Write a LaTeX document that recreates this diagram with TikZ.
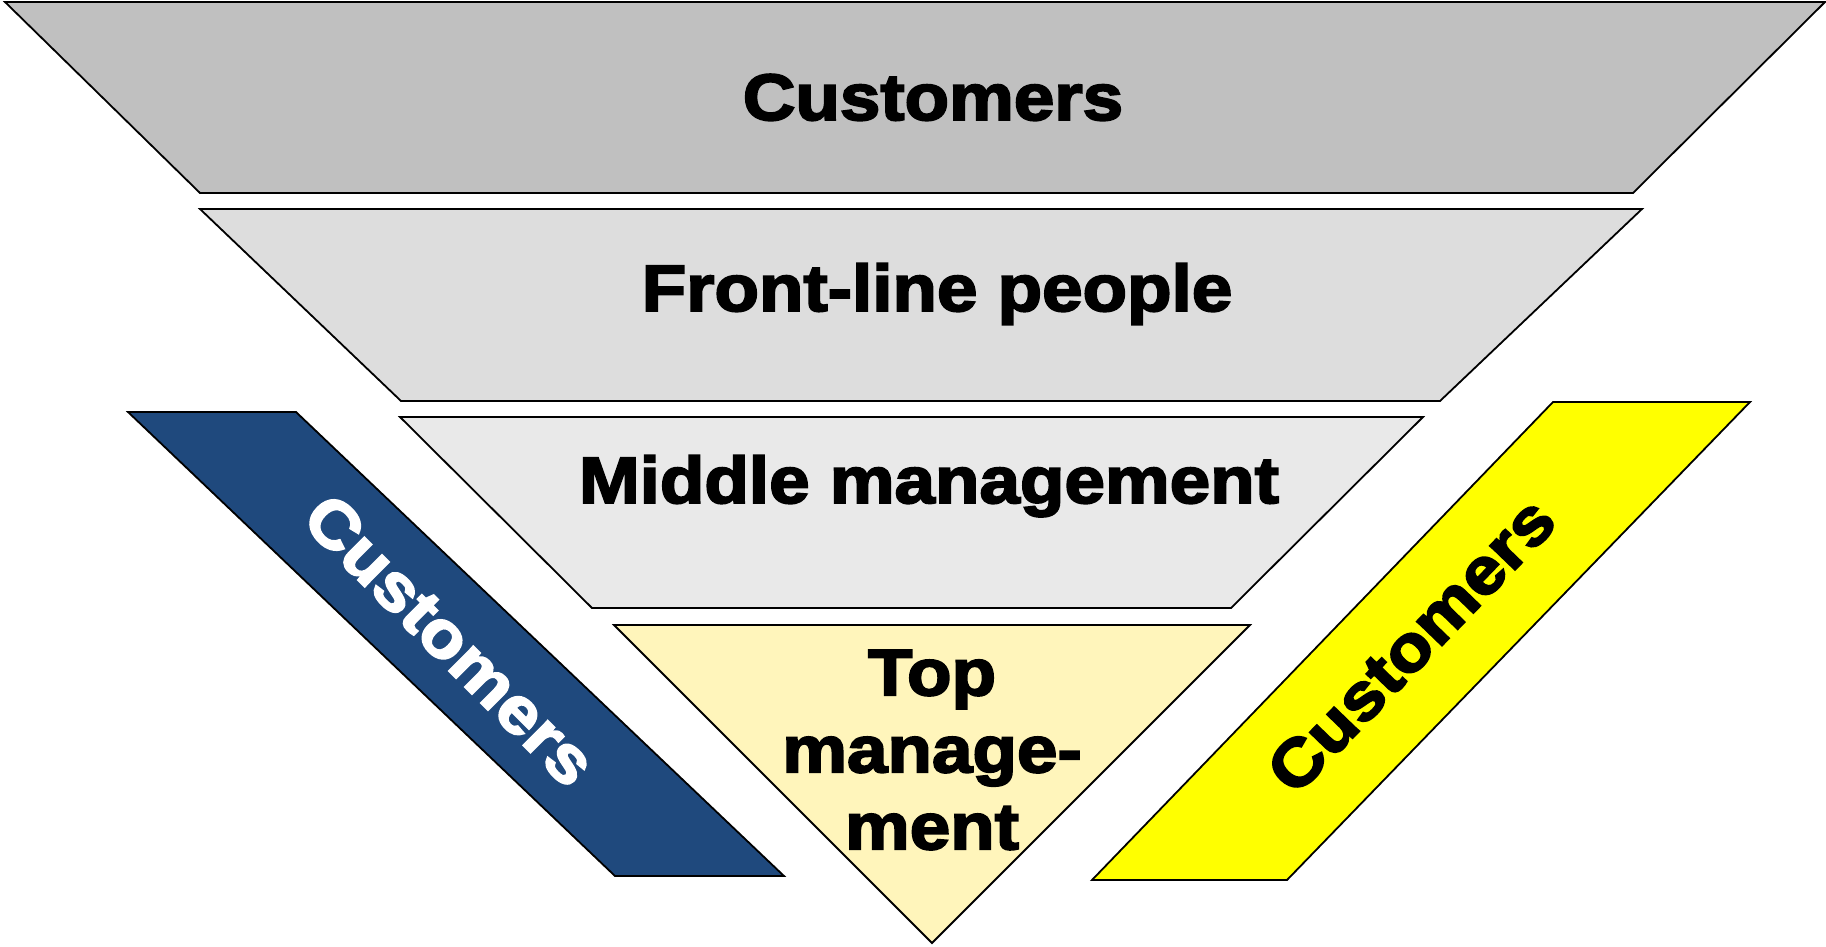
\documentclass[tikz,border=0pt]{standalone}
\usepackage{fontspec}
\setmainfont{Liberation Sans}
\newfontfamily\heavy{Liberation Sans}[FakeStretch=1.11,BoldFeatures={FakeBold=3}]
\usetikzlibrary{positioning}

\definecolor{tiergray}{HTML}{C0C0C0}
\definecolor{tierlight}{HTML}{DDDDDD}
\definecolor{tierpale}{HTML}{E9E9E9}
\definecolor{tiercream}{HTML}{FFF5BB}
\definecolor{custblue}{HTML}{1F497D}
\definecolor{custyellow}{HTML}{FFFF00}

\begin{document}
\begin{tikzpicture}[x=0.5pt,y=-0.5pt,
  tier/.style={draw=black,line width=0.9pt,line join=miter},
  word/.style={font=\heavy\bfseries\fontsize{32.8}{38.5}\selectfont,inner sep=0pt,outer sep=0pt,align=center}]

        \useasboundingbox (0,0) rectangle (1826,947);

        % the inverted pyramid
        \filldraw[tier,fill=tiergray] (5,2) -- (1825,2) -- (1633,193) -- (200,193) -- cycle;
        \filldraw[tier,fill=tierlight] (200,209) -- (1642,209) -- (1440,401) -- (401,401) -- cycle;
        \filldraw[tier,fill=tierpale] (400,417) -- (1423,417) -- (1231,608) -- (592,608) -- cycle;
        \filldraw[tier,fill=tiercream] (614,625) -- (1250,625) -- (932,943) -- cycle;

        % the side bands
        \filldraw[tier,fill=custblue] (128,412) -- (296,412) -- (784,876) -- (615,876) -- cycle;
        \filldraw[tier,fill=custyellow] (1553,402) -- (1750,402) -- (1287,880) -- (1092,880) -- cycle;

        \node (CT) [word,anchor=base] at (933,120) {Customers};
        \node (FL) [word,anchor=base] at (937,311) {Front-line people};
        \node (MM) [word,anchor=base] at (929,503) {Middle management};
        \node (TM) [word] at (932,750) {Top\\manage-\\ment};

        \node (CL) [word,text=white,rotate=-45] at (450,640) {Customers};
        \node (CR) [word,rotate=46] at (1411,645) {Customers};
      \end{tikzpicture}
\end{document}
